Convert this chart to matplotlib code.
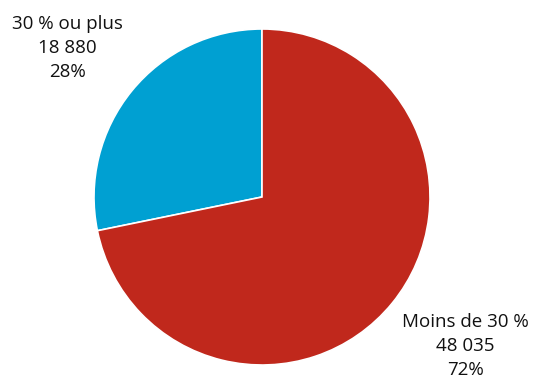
import matplotlib
matplotlib.use("Agg")
import matplotlib.pyplot as plt

# data
categories = ["30 % ou plus", "Moins de 30 %"]
counts = [18880, 48035]
counts_txt = ["18 880", "48 035"]
pcts = ["28%", "72%"]
colors = ["#00A0D2", "#C0281C"]

plt.rcParams['font.family'] = ['Open Sans', 'DejaVu Sans']

fig = plt.figure(figsize=(5.33, 3.79), dpi=100)
ax = fig.add_axes([94 / 533, 14 / 379, 336 / 533, 336 / 379])
ax.pie(counts, colors=colors, startangle=90, counterclock=True, radius=1,
       wedgeprops=dict(edgecolor="white", linewidth=1.2))
ax.set_xlim(-1, 1)
ax.set_ylim(-1, 1)
ax.set_aspect("equal")
ax.axis("off")

# labels
pos = [(67, 48), (465, 346)]
for (px, py), c, n, p in zip(pos, categories, counts_txt, pcts):
    fig.text(px / 533, 1 - py / 379, f"{c}\n{n}\n{p}", ha="center", va="center",
             fontsize=13.5, linespacing=1.42, color="#111111")

fig.savefig("out.png", dpi=100)
